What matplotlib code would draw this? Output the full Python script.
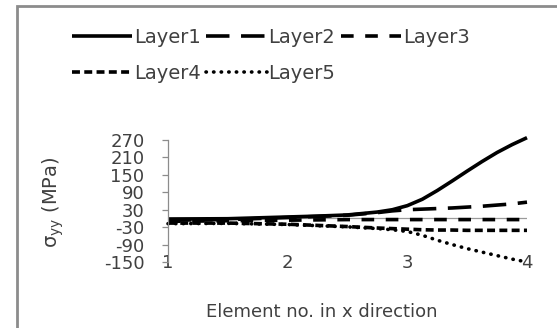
import matplotlib
matplotlib.use("Agg")
import matplotlib.pyplot as plt
import matplotlib.patches as mpatches
from matplotlib.ticker import FuncFormatter

# values
element = [1, 1.5, 2, 2.25, 2.5, 2.75, 2.875, 3, 3.125, 3.25, 3.375, 3.5, 3.625, 3.75, 3.875, 4]
layer1 = [-2, -1, 5, 8, 12, 22, 30, 44, 66, 96, 129, 163, 196, 227, 254, 278]
layer2 = [-6, -4, 3, 7, 11, 20, 26, 30, 32, 34, 36, 39, 42, 46, 50, 56]
layer3 = [-10, -8, -6, -5, -4, -4, -4, -4, -4, -4, -4, -4, -4, -4, -4, -4]
layer4 = [-16, -16, -20, -24, -28, -33, -35, -37, -39, -40, -40, -41, -41, -41, -41, -41]
layer5 = [-18, -17, -21, -25, -29, -35, -39, -45, -58, -75, -90, -104, -116, -128, -140, -150]
labels = ['Layer1', 'Layer2', 'Layer3', 'Layer4', 'Layer5']
yticks = [-150, -90, -30, 30, 90, 150, 210, 270]
xticks = [1, 2, 3, 4]

plt.rcParams['font.family'] = ['DejaVu Sans']
txt = '#404040'

fig = plt.figure(figsize=(5.57, 3.28), dpi=100)
W, H = 557.0, 328.0
ax = fig.add_axes([168 / W, 1 - 262 / H, (527 - 168) / W, (262 - 140) / H])

lw = 2.6
l1, = ax.plot(element, layer1, color='black', lw=lw, label=labels[0], solid_capstyle='butt')
l2, = ax.plot(element, layer2, color='black', lw=lw, label=labels[1], dashes=(6.5, 3.2))
l3, = ax.plot(element, layer3, color='black', lw=lw, label=labels[2], dashes=(3.5, 3.2))
l4, = ax.plot(element, layer4, color='black', lw=lw, label=labels[3], dashes=(2.2, 1.2))
l5, = ax.plot(element, layer5, color='black', lw=lw, label=labels[4], dashes=(0.1, 2.0),
              dash_capstyle='round')
for l in (l1, l2, l3, l4, l5):
    l.set_clip_on(False)

ax.axhline(0, color='#9a9a9a', lw=0.9, zorder=0)

ax.set_xlim(1, 4)
ax.set_ylim(-150, 270)
ax.set_xticks(xticks)
ax.set_yticks(yticks)
ax.yaxis.set_major_formatter(FuncFormatter(lambda v, p: '%d' % v))
ax.tick_params(axis='y', direction='out', length=4, width=0.9, color='#8c8c8c',
               labelsize=13, labelcolor=txt, pad=13)
ax.tick_params(axis='x', length=0, labelsize=13, labelcolor=txt, pad=-6)
for s in ['top', 'right', 'bottom']:
    ax.spines[s].set_visible(False)
ax.spines['left'].set_color('#8c8c8c')
ax.spines['left'].set_linewidth(0.9)
ax.patch.set_alpha(0)

fig.text(53 / W, 1 - 202 / H, r'σ$_\mathregular{yy}$ (MPa)', rotation=90, ha='center',
         va='center', fontsize=14, color=txt)
fig.text(322 / W, 1 - 312 / H, 'Element no. in x direction', ha='center',
         va='center', fontsize=13, color=txt)

# row-wise legend order (matplotlib fills columns first)
handles = [l1, l4, l2, l5, l3]
leg = ax.legend(handles, [h.get_label() for h in handles], loc='upper left',
                bbox_to_anchor=(72 / W, 1 - 28 / H),
                bbox_transform=fig.transFigure, ncol=3, frameon=False,
                borderpad=0, borderaxespad=0, handlelength=3.1,
                handletextpad=0.08, columnspacing=0.3, labelspacing=0.85,
                fontsize=14)
for t in leg.get_texts():
    t.set_color(txt)

border = mpatches.Rectangle((17 / W, -0.1), 1.2, 1 - 6 / H + 0.1,
                            transform=fig.transFigure, fill=False,
                            edgecolor='#8c8c8c', lw=2.0, clip_on=False)
fig.add_artist(border)

fig.savefig('out.png', dpi=100)
